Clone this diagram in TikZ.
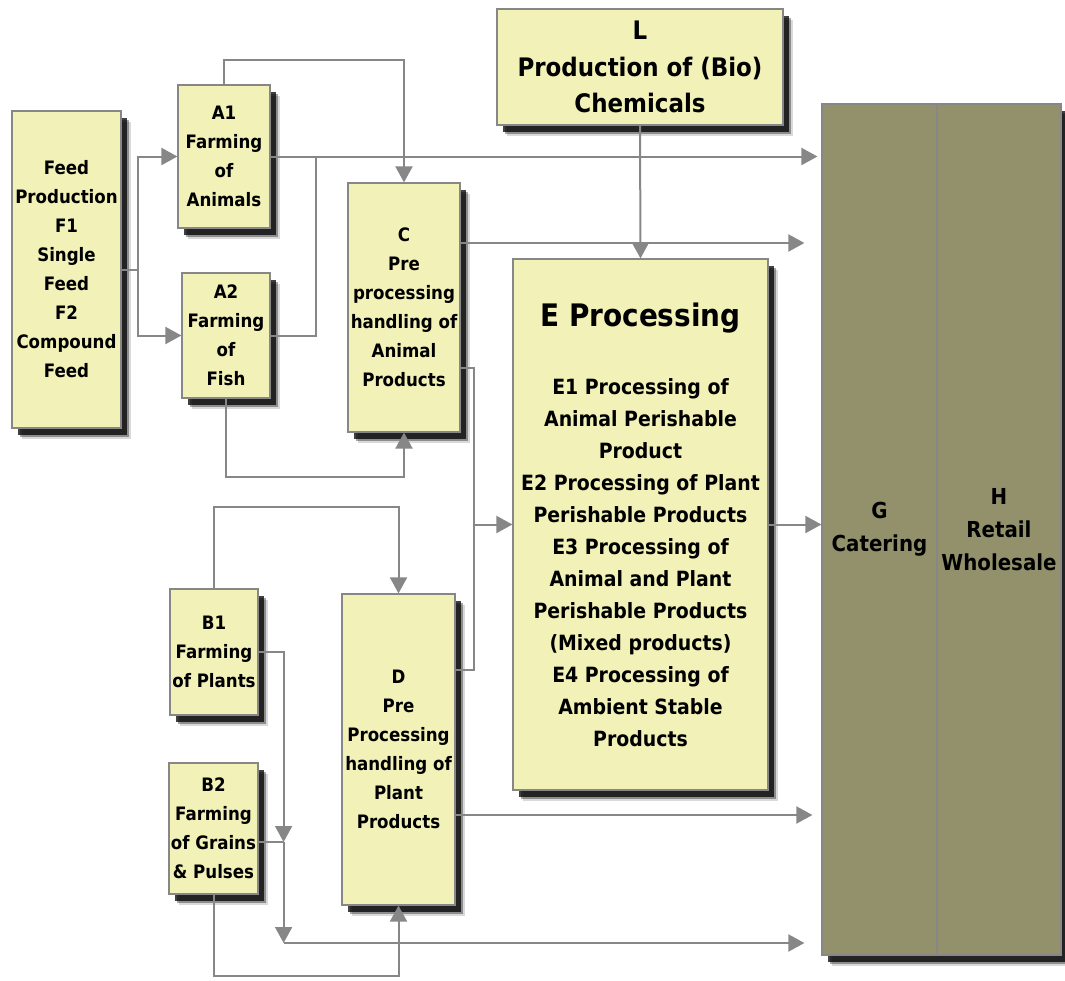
\documentclass[tikz,border=0pt]{standalone}
\usepackage{fontspec}
\setmainfont{DejaVu Sans Condensed}
\usetikzlibrary{arrows.meta,shadows,calc}
\definecolor{boxfill}{RGB}{242,241,183}
\definecolor{retailfill}{RGB}{146,145,107}
\definecolor{linegrey}{RGB}{135,135,135}

\begin{document}
\begin{tikzpicture}[x=1pt, y=-1pt,
		box/.style={draw=linegrey, line width=1.2pt, fill=boxfill, align=center, inner sep=0pt,
			font=\bfseries\fontsize{18.5}{29}\selectfont,
			drop shadow={shadow xshift=10pt, shadow yshift=-11pt, fill=black, opacity=.15},
			drop shadow={shadow xshift=8pt, shadow yshift=-9pt, fill=black, opacity=.35},
			drop shadow={shadow xshift=6pt, shadow yshift=-7pt, fill=black, opacity=.75}},
		market/.style={box, fill=retailfill, font=\bfseries\fontsize{22}{33}\selectfont},
		line/.style={draw=linegrey, line width=2pt},
		flow/.style={line, -{Triangle[length=16pt,width=17pt]}}]
		
		\useasboundingbox (0,0) rectangle (1065,980);
		
		% Retail and catering
		\node[market, minimum width=115pt, minimum height=851pt] (G) at (879.5,529.5) {G\\Catering};
		\node[market, minimum width=124pt, minimum height=851pt] (H) at (999,529.5) {H\\Retail\\Wholesale};
		
		% Feed and farming
		\node[box, minimum width=109pt, minimum height=317pt] (feed) at (66.5,269.5)
		{Feed\\Production\\F1\\Single\\Feed\\F2\\Compound\\Feed};
		\node[box, minimum width=92pt, minimum height=143pt] (A1) at (224,156.5) {A1\\Farming\\of\\Animals};
		\node[box, minimum width=88pt, minimum height=125pt] (A2) at (226,335.5) {A2\\Farming\\of\\Fish};
		\node[box, minimum width=88pt, minimum height=126pt] (B1) at (214,652) {B1\\Farming\\of Plants};
		\node[box, minimum width=89pt, minimum height=131pt] (B2) at (213.5,828.5) {B2\\Farming\\of Grains\\\& Pulses};
		
		% Pre processing
		\node[box, minimum width=112pt, minimum height=249pt] (C) at (404,307.5)
		{C\\Pre\\processing\\handling of\\Animal\\Products};
		\node[box, minimum width=113pt, minimum height=311pt] (D) at (398.5,749.5)
		{D\\Pre\\Processing\\handling of\\Plant\\Products};
		
		% Chemicals and processing
		\node[box, minimum width=286pt, minimum height=116pt, font=\bfseries\fontsize{25.5}{36.5}\selectfont] (L) at (640,67)
		{L\\Production of (Bio)\\Chemicals};
		\node[box, minimum width=255pt, minimum height=531pt, font=\bfseries\fontsize{21}{32}\selectfont] (E) at (640.5,524.5)
		{{\fontsize{31}{38}\selectfont E Processing}\\[36pt]
			E1 Processing of\\Animal Perishable\\Product\\E2 Processing of Plant\\Perishable Products\\
			E3 Processing of\\Animal and Plant\\Perishable Products\\(Mixed products)\\
			E4 Processing of\\Ambient Stable\\Products};
		
		% Feed to farming
		\draw[flow] (feed.east) -- ++(16,0) |- (A1.west);
		\draw[flow] (feed.east) -- ++(16,0) |- (A2.west);
		
		% Animal flows
		\draw[flow] (A1.north) -- ++(0,-24) -| (C.north);
		\draw[flow, shorten >=4pt] (A1.east) -- (A1.east -| G.west);
		\coordinate (j) at ($(A1.east)+(45,0)$);
		\draw[line] (A2.east) -| (j);
		\draw[flow] (A2.south) -- ++(0,78) -| (C.south);
		\draw[flow, shorten >=17pt] ($(C.east)+(0,-64.5)$) coordinate (c1) -- (c1 -| G.west);
		
		% Into processing
		\draw[flow] (L.south) -- (E.north);
		\draw[line] ($(C.east)+(0,60.5)$) -- ++(13,0) coordinate (k) |- ($(D.east)+(0,-79.5)$);
		\draw[flow] (k |- E.west) -- (E.west);
		\draw[flow] (E.east) -- (E.east -| G.west);
		
		% Plant flows
		\draw[flow] (B1.north) -- ++(0,-81) -| (D.north);
		\draw[line] ($(B2.east)+(0,13.5)$) -- ++(25,0) coordinate (m);
		\draw[flow] (B1.east) -| (m);
		\draw[flow] (m) -- ++(0,101) coordinate (n);
		\draw[flow, shorten >=17pt] (n) -- (n -| G.west);
		\draw[flow] (B2.south) -- ++(0,81) -| (D.south);
		\draw[flow, shorten >=9pt] ($(D.east)+(0,65.5)$) coordinate (d1) -- (d1 -| G.west);
		
	\end{tikzpicture}
\end{document}
